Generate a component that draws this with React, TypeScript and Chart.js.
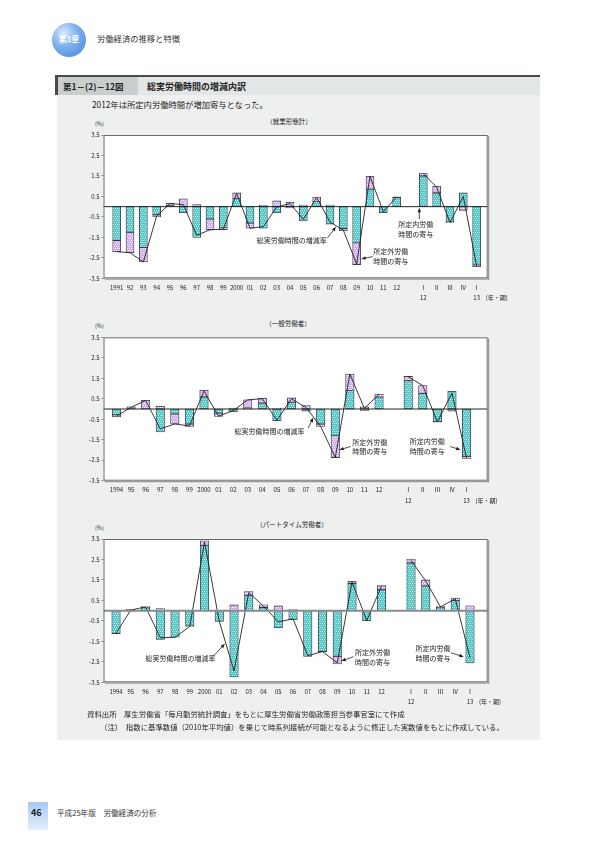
import React, { useEffect, useRef } from "react";
import { Chart, registerables } from "chart.js";

Chart.register(...registerables);

const FONT = '"Noto Sans CJK JP", "Noto Sans", sans-serif';

// ---------------- data ----------------
const yearLabelsAll = ["1991", "92", "93", "94", "95", "96", "97", "98", "99", "2000", "01", "02", "03", "04", "05", "06", "07", "08", "09", "10", "11", "12"];
const yearLabelsSplit = ["1994", "95", "96", "97", "98", "99", "2000", "01", "02", "03", "04", "05", "06", "07", "08", "09", "10", "11", "12"];
const quarterLabels = ["Ⅰ", "Ⅱ", "Ⅲ", "Ⅳ", "Ⅰ"];
const quarterYearLabels = ["12", "", "", "", "13"];
const periodUnitLabel = "(年・期)";
const yTickValues = [-3.5, -2.5, -1.5, -0.5, 0.5, 1.5, 2.5, 3.5];

// 就業形態計
const allScheduled = [-1.65, -1.25, -2.0, -0.4, 0.05, -0.3, -1.5, -0.6, -1.02, 0.4, -0.8, -1.05, -0.3, -0.06, -0.7, 0.25, -0.85, -1.07, -1.77, 0.85, -0.3, 0.45];
const allOvertime = [-0.55, -1.0, -0.7, -0.1, 0.12, 0.38, 0.1, -0.53, -0.1, 0.27, -0.25, 0.07, 0.28, 0.21, 0.08, 0.22, 0.08, -0.1, -1.06, 0.63, 0.02, 0.03];
const allTotal = [-2.2, -2.25, -2.7, -0.45, 0.15, 0.1, -1.4, -1.13, -1.1, 0.65, -1.05, -0.98, -0.02, 0.15, -0.62, 0.45, -0.75, -1.15, -2.8, 1.48, -0.25, 0.48];
const allScheduledQ = [1.5, 0.67, -0.75, 0.67, -2.85];
const allOvertimeQ = [0.14, 0.32, -0.03, -0.18, -0.08];
const allTotalQ = [1.62, 0.95, -0.78, 0.5, -2.9];

// 一般労働者
const genScheduled = [-0.28, 0.0, 0.0, -1.12, -0.24, -0.73, 0.59, -0.2, -0.13, 0.05, 0.29, -0.57, 0.33, -0.1, -0.73, -1.3, 0.91, -0.07, 0.58];
const genOvertime = [-0.11, 0.1, 0.42, 0.13, -0.49, -0.12, 0.32, -0.16, 0.05, 0.4, 0.23, 0.03, 0.21, 0.17, -0.12, -1.07, 0.8, 0.1, 0.15];
const genTotal = [-0.35, 0.08, 0.42, -0.97, -0.73, -0.83, 0.88, -0.35, -0.08, 0.45, 0.5, -0.55, 0.5, 0.07, -0.85, -2.37, 1.7, 0.03, 0.72];
const genScheduledQ = [1.38, 0.75, -0.62, 0.86, -2.31];
const genOvertimeQ = [0.21, 0.39, -0.02, -0.1, -0.1];
const genTotalQ = [1.58, 1.14, -0.63, 0.78, -2.4];

// パートタイム労働者
const partScheduled = [-1.12, -0.03, 0.18, -1.4, -1.3, -0.75, 3.19, -0.52, -3.24, 0.75, 0.15, -0.83, -0.44, -2.23, -2.0, -2.23, 1.33, -0.49, 1.02];
const partOvertime = [0.0, 0.06, 0.02, 0.1, 0.0, -0.02, 0.22, 0.0, 0.28, 0.18, 0.14, 0.23, 0.05, 0.02, 0.0, -0.37, 0.1, 0.0, 0.2];
const partTotal = [-1.1, 0.03, 0.18, -1.32, -1.3, -0.77, 3.35, -0.52, -2.95, 0.88, 0.22, -0.55, -0.4, -2.2, -2.0, -2.55, 1.4, -0.48, 1.2];
const partScheduledQ = [2.33, 1.2, 0.15, 0.49, -2.55];
const partOvertimeQ = [0.19, 0.3, 0.05, 0.13, 0.24];
const partTotalQ = [2.45, 1.45, 0.18, 0.58, -2.3];

const noteTotal = ["総実労働時間の増減率"];
const noteOver = ["所定外労働", "時間の寄与"];
const noteSched = ["所定内労働", "時間の寄与"];

// ---------------- chart ----------------
type Note = { lines: string[]; x: number; y: number; arrow: [number, number, number, number] };
type Spec = {
  years: string[];
  sched: number[]; over: number[]; total: number[];
  schedQ: number[]; overQ: number[]; totalQ: number[];
  notes: Note[];
  top: number; padTop: number; axisH: number; xMin: number; xMax: number;
  bar: number; zeroColor: string; zeroWidth: number;
};

function makePattern(base: string, dot: string): CanvasPattern | string {
  const p = document.createElement("canvas");
  p.width = 4; p.height = 4;
  const g = p.getContext("2d");
  if (!g) return base;
  g.fillStyle = base; g.fillRect(0, 0, 4, 4);
  g.fillStyle = dot;
  g.fillRect(0, 0, 1, 1); g.fillRect(2, 0, 1, 1);
  g.fillRect(1, 2, 1, 1); g.fillRect(3, 2, 1, 1);
  const pat = g.createPattern(p, "repeat");
  return pat || base;
}

function BarChart({ spec }: { spec: Spec }) {
  const ref = useRef<HTMLCanvasElement>(null);
  useEffect(() => {
    if (!ref.current) return;
    const n = spec.years.length;
    const qIdx = (i: number) => n + 1 + i;
    const pts = (ys: number[], qs: number[]) => [
      ...ys.map((y, i) => ({ x: i, y })),
      ...qs.map((y, i) => ({ x: qIdx(i), y })),
    ];
    const linePts = [
      ...spec.total.map((y, i) => ({ x: i, y })),
      { x: n, y: null as any },
      ...spec.totalQ.map((y, i) => ({ x: qIdx(i), y })),
    ];
    const labelMap = new Map<number, string | string[]>();
    spec.years.forEach((l, i) => labelMap.set(i, l));
    quarterLabels.forEach((q, i) => labelMap.set(qIdx(i), [q, quarterYearLabels[i]]));
    const tickIdx = Array.from(labelMap.keys());

    const teal = makePattern("#52c5c6", "#c6f0f0");
    const purple = makePattern("#d4acf0", "#f8eefd");
    const tickFont = { family: FONT, size: 6, lineHeight: 1.75 };
    const TICK_PAD = 4;

    const framePlugin = {
      id: "frame",
      beforeDatasetsDraw(chart: any) {
        const { ctx, chartArea: a } = chart;
        ctx.save();
        ctx.fillStyle = "#ffffff";
        ctx.fillRect(a.left, a.top, a.right - a.left, a.bottom - a.top);
        ctx.restore();
      },
      afterDatasetsDraw(chart: any) {
        const { ctx, chartArea: a, scales } = chart;
        ctx.save();
        const zy = scales.y.getPixelForValue(0);
        ctx.strokeStyle = spec.zeroColor;
        ctx.lineWidth = spec.zeroWidth;
        ctx.beginPath();
        ctx.moveTo(a.left, zy);
        ctx.lineTo(a.right, zy);
        ctx.stroke();
        ctx.strokeStyle = "#6a6a6a";
        ctx.lineWidth = 1;
        ctx.strokeRect(a.left + 0.5, a.top + 0.5, a.right - a.left - 1, a.bottom - a.top - 1);
        ctx.strokeStyle = "#9a9a9a";
        ctx.lineWidth = 1.5;
        ctx.beginPath();
        ctx.moveTo(a.left + 1, a.bottom + 0.8);
        ctx.lineTo(a.right + 0.8, a.bottom + 0.8);
        ctx.lineTo(a.right + 0.8, a.top + 1);
        ctx.stroke();
        ctx.restore();
      },
      afterDraw(chart: any) {
        const { ctx, chartArea: a, scales } = chart;
        const x = scales.x, y = scales.y;
        ctx.save();
        ctx.fillStyle = "#222";
        ctx.strokeStyle = "#222";
        ctx.font = `7px ${FONT}`;
        ctx.textBaseline = "middle";
        ctx.textAlign = "left";
        for (const note of spec.notes) {
          const px = x.getPixelForValue(note.x);
          const py = y.getPixelForValue(note.y);
          note.lines.forEach((l, i) => ctx.fillText(l, px, py + i * 9.7));
          const [x1v, y1v, x2v, y2v] = note.arrow;
          const x1 = x.getPixelForValue(x1v), y1 = y.getPixelForValue(y1v);
          const x2 = x.getPixelForValue(x2v), y2 = y.getPixelForValue(y2v);
          ctx.lineWidth = 0.8;
          ctx.beginPath();
          ctx.moveTo(x1, y1);
          ctx.lineTo(x2, y2);
          ctx.stroke();
          const ang = Math.atan2(y2 - y1, x2 - x1);
          const L = 4, W = 1.8;
          ctx.beginPath();
          ctx.moveTo(x2, y2);
          ctx.lineTo(x2 - L * Math.cos(ang) + W * Math.sin(ang), y2 - L * Math.sin(ang) - W * Math.cos(ang));
          ctx.lineTo(x2 - L * Math.cos(ang) - W * Math.sin(ang), y2 - L * Math.sin(ang) + W * Math.cos(ang));
          ctx.closePath();
          ctx.fill();
        }
        ctx.font = `6px ${FONT}`;
        const lh = tickFont.size * tickFont.lineHeight;
        const ux = x.getPixelForValue(qIdx(quarterLabels.length - 1)) + 9;
        const uy = a.bottom + TICK_PAD + lh * 1.5;
        ctx.fillText(periodUnitLabel, ux, uy);
        ctx.restore();
      },
    };

    const chart = new Chart(ref.current, {
      type: "bar",
      data: {
        datasets: [
          {
            type: "bar", label: "所定内労働時間の寄与", data: pts(spec.sched, spec.schedQ) as any,
            backgroundColor: teal as any, borderColor: "#3a3a3a", borderWidth: 0.8, borderSkipped: false,
            barThickness: spec.bar, stack: "s", order: 1,
          },
          {
            type: "bar", label: "所定外労働時間の寄与", data: pts(spec.over, spec.overQ) as any,
            backgroundColor: purple as any, borderColor: "#3a3a3a", borderWidth: 0.8, borderSkipped: false,
            barThickness: spec.bar, stack: "s", order: 1,
          },
          {
            type: "line", label: "総実労働時間の増減率", data: linePts as any,
            borderColor: "#222", borderWidth: 0.9, pointRadius: 0, tension: 0, spanGaps: false,
            stack: "line", order: 0,
          } as any,
        ],
      },
      options: {
        animation: false,
        responsive: false,
        maintainAspectRatio: false,
        layout: { padding: { top: spec.padTop, right: 52.3, left: 0, bottom: 0 } },
        plugins: { legend: { display: false }, tooltip: { enabled: false } },
        scales: {
          x: {
            type: "linear", min: spec.xMin, max: spec.xMax, offset: false, stacked: true,
            grid: { display: false, drawTicks: false }, border: { display: false },
            afterBuildTicks: (s: any) => { s.ticks = tickIdx.map((v) => ({ value: v })); },
            afterFit: (s: any) => { s.height = spec.axisH; },
            ticks: {
              autoSkip: false, maxRotation: 0, minRotation: 0, padding: TICK_PAD, color: "#222",
              font: tickFont as any,
              callback: (v: any) => (labelMap.has(v) ? (labelMap.get(v) as any) : ""),
            },
          },
          y: {
            min: -3.5, max: 3.5, stacked: true,
            grid: { drawOnChartArea: false, tickLength: 2, color: "#888" }, border: { display: false },
            afterBuildTicks: (s: any) => { s.ticks = yTickValues.map((v) => ({ value: v })); },
            afterFit: (s: any) => { s.width = 43.5; },
            ticks: {
              padding: 2, color: "#222", font: { family: FONT, size: 6 },
              callback: (v: any) => Number(v).toFixed(1),
            },
          },
        },
      } as any,
      plugins: [framePlugin],
    });
    return () => chart.destroy();
  }, [spec]);
  return (
    <canvas
      ref={ref}
      width={480}
      height={200}
      style={{ position: "absolute", left: 60, top: spec.top, width: 480, height: 200 }}
    />
  );
}

const spec1: Spec = {
  years: yearLabelsAll,
  sched: allScheduled, over: allOvertime, total: allTotal,
  schedQ: allScheduledQ, overQ: allOvertimeQ, totalQ: allTotalQ,
  notes: [
    { lines: noteTotal, x: 10.5, y: -1.66, arrow: [15.8, -1.54, 16.43, -1.0] },
    { lines: noteOver, x: 19.25, y: -2.2, arrow: [19.2, -2.44, 18.38, -2.55] },
    { lines: noteSched, x: 21.12, y: -0.86, arrow: [22.7, -0.61, 22.7, -0.08] },
  ],
  top: 110, padTop: 25, axisH: 31.7, xMin: -0.99, xMax: 27.83, bar: 8,
  zeroColor: "#222", zeroWidth: 1,
};
const spec2: Spec = {
  years: yearLabelsSplit,
  sched: genScheduled, over: genOvertime, total: genTotal,
  schedQ: genScheduledQ, overQ: genOvertimeQ, totalQ: genTotalQ,
  notes: [
    { lines: noteTotal, x: 8.09, y: -1.1, arrow: [13.14, -0.93, 13.48, -0.44] },
    { lines: noteOver, x: 16.16, y: -1.61, arrow: [16.05, -1.83, 15.3, -1.99] },
    { lines: noteSched, x: 20.1, y: -1.59, arrow: [22.88, -1.83, 23.56, -1.99] },
  ],
  top: 315, padTop: 22.3, axisH: 34.3, xMin: -0.89, xMax: 25.45, bar: 8.5,
  zeroColor: "#222", zeroWidth: 1,
};
const spec3: Spec = {
  years: yearLabelsSplit,
  sched: partScheduled, over: partOvertime, total: partTotal,
  schedQ: partScheduledQ, overQ: partOvertimeQ, totalQ: partTotalQ,
  notes: [
    { lines: noteTotal, x: 2.0, y: -2.35, arrow: [6.57, -2.25, 7.36, -1.63] },
    { lines: noteOver, x: 16.2, y: -2.06, arrow: [16.1, -2.25, 15.3, -2.45] },
    { lines: noteSched, x: 20.3, y: -1.86, arrow: [22.7, -2.06, 23.55, -2.25] },
  ],
  top: 515, padTop: 24, axisH: 32.7, xMin: -0.85, xMax: 25.2, bar: 8.5,
  zeroColor: "#8a8a8a", zeroWidth: 2,
};

function T(props: { x: number; y: number; size: number; children: React.ReactNode; center?: boolean; bold?: boolean; color?: string }) {
  return (
    <div
      style={{
        position: "absolute", left: props.x, top: props.y, fontSize: props.size, lineHeight: 1,
        transform: props.center ? "translate(-50%, -50%)" : "translateY(-50%)",
        whiteSpace: "nowrap", fontFamily: FONT, fontWeight: props.bold ? 700 : 400,
        color: props.color || "#222",
      }}
    >
      {props.children}
    </div>
  );
}

export default function App() {
  return (
    <div style={{ position: "absolute", left: 0, top: 0, width: 595, height: 842, background: "#fff", overflow: "hidden", fontFamily: FONT }}>
      {/* header */}
      <div
        style={{
          position: "absolute", left: 52, top: 23, width: 34, height: 34, borderRadius: "50%",
          background: "radial-gradient(circle at 35% 30%, #dcebfd 0%, #7fb2ef 40%, #3f86dc 100%)",
        }}
      />
      <T x={69} y={39} size={8} center bold color="#fff">第1章</T>
      <T x={97} y={38} size={8.3} color="#333">労働経済の推移と特徴</T>

      {/* panel */}
      <div style={{ position: "absolute", left: 57, top: 76, width: 483, height: 664, background: "#eef0f0" }} />
      <div style={{ position: "absolute", left: 55, top: 75, width: 485, height: 2, background: "#4a4a4a" }} />
      <div style={{ position: "absolute", left: 58, top: 77, width: 482, height: 18, background: "#e3e6e6" }} />
      <div style={{ position: "absolute", left: 55, top: 75, width: 3, height: 20, background: "#4a4a4a" }} />
      <div style={{ position: "absolute", left: 58, top: 77, width: 80, height: 18, background: "#c9cfcf" }} />
      <T x={63} y={86} size={8.5} bold>第1－(2)－12図</T>
      <T x={147} y={86} size={9} bold>総実労働時間の増減内訳</T>
      <T x={92} y={104} size={8.3}>2012年は所定内労働時間が増加寄与となった。</T>

      {/* chart titles */}
      <T x={289} y={121} size={6.5} center>（就業形態計）</T>
      <T x={95} y={125} size={5.5}>(%)</T>
      <T x={288} y={322.5} size={6.5} center>（一般労働者）</T>
      <T x={95} y={327} size={5.5}>(%)</T>
      <T x={292} y={523.5} size={6.5} center>（パートタイム労働者）</T>
      <T x={95} y={528.5} size={5.5}>(%)</T>

      <BarChart spec={spec1} />
      <BarChart spec={spec2} />
      <BarChart spec={spec3} />

      {/* notes */}
      <T x={87} y={714} size={7.4}>資料出所　厚生労働省「毎月勤労統計調査」をもとに厚生労働省労働政策担当参事官室にて作成</T>
      <T x={100} y={727} size={7.4}>（注）　指数に基準数値（2010年平均値）を乗じて時系列接続が可能となるように修正した実数値をもとに作成している。</T>

      {/* footer */}
      <div style={{ position: "absolute", left: 28, top: 802, width: 20, height: 28, background: "linear-gradient(#a8c9f3, #e4eefb)" }} />
      <T x={31} y={812} size={9} bold>46</T>
      <T x={57} y={812.5} size={7.6} color="#333">平成25年版　労働経済の分析</T>
    </div>
  );
}
